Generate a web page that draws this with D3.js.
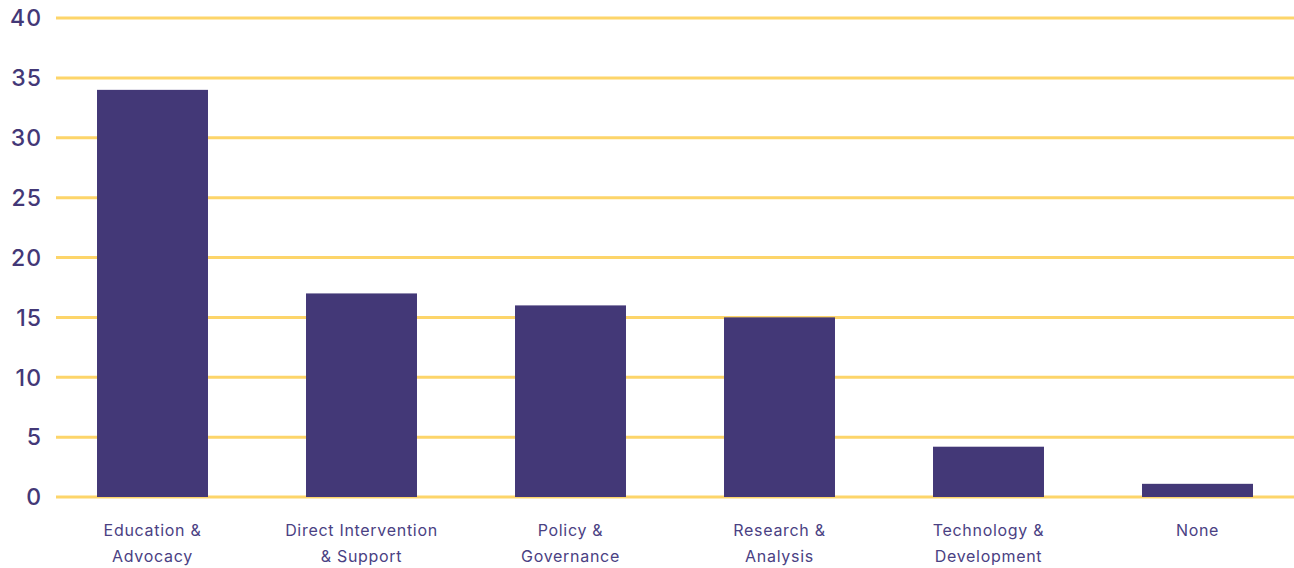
<!DOCTYPE html>
<html>
<head>
<meta charset="utf-8">
<script src="https://cdn.jsdelivr.net/npm/d3@7"></script>
<style>
  html, body { margin: 0; padding: 0; background: #ffffff; }
  svg { display: block; }
</style>
</head>
<body>
<svg id="chart" width="1294" height="568"></svg>
<script>
// Focus areas and their counts
const categories = [
  ["Education &", "Advocacy"],
  ["Direct Intervention", "& Support"],
  ["Policy &", "Governance"],
  ["Research &", "Analysis"],
  ["Technology &", "Development"],
  ["None"]
];
const values = [34, 17, 16, 15, 4.2, 1.1];
const yTicks = [0, 5, 10, 15, 20, 25, 30, 35, 40];

const barColor = "#433877";
const gridColor = "#FDD56A";
const textColor = "#433877";

const svg = d3.select("#chart");
const plotTop = 18, plotBottom = 497;
const gridLeft = 56, gridRight = 1294;

const x = d3.scaleBand()
  .domain(d3.range(categories.length))
  .range([48, 1302])
  .paddingInner(0.469)
  .paddingOuter(0.2345);

const y = d3.scaleLinear().domain([0, 40]).range([plotBottom, plotTop]);

// Horizontal gridlines
svg.append("g")
  .selectAll("line")
  .data(yTicks)
  .join("line")
  .attr("x1", gridLeft)
  .attr("x2", gridRight)
  .attr("y1", d => y(d))
  .attr("y2", d => y(d))
  .attr("stroke", gridColor)
  .attr("stroke-width", 3);

// Y tick labels
svg.append("g")
  .selectAll("text")
  .data(yTicks)
  .join("text")
  .attr("x", 42)
  .attr("y", d => y(d))
  .attr("dy", "0.36em")
  .attr("text-anchor", "end")
  .attr("fill", textColor)
  .attr("font-family", "Inter, 'DejaVu Sans', sans-serif")
  .attr("font-size", 23)
  .attr("font-weight", 500)
  .attr("letter-spacing", 1)
  .text(d => d);

// Bars
svg.append("g")
  .selectAll("rect")
  .data(values)
  .join("rect")
  .attr("x", (d, i) => x(i))
  .attr("width", x.bandwidth())
  .attr("y", d => y(d))
  .attr("height", d => y(0) - y(d))
  .attr("fill", barColor);

// Category labels (two lines)
const labels = svg.append("g")
  .selectAll("text")
  .data(categories)
  .join("text")
  .attr("x", (d, i) => x(i) + x.bandwidth() / 2)
  .attr("y", 536)
  .attr("text-anchor", "middle")
  .attr("fill", "#4a4183")
  .attr("font-family", "Inter, 'DejaVu Sans', sans-serif")
  .attr("font-size", 16)
  .attr("letter-spacing", 0.7);

labels.selectAll("tspan")
  .data(d => d)
  .join("tspan")
  .attr("x", function () { return d3.select(this.parentNode).attr("x"); })
  .attr("dy", (d, i) => i === 0 ? 0 : 26)
  .text(d => d);
</script>
</body>
</html>
